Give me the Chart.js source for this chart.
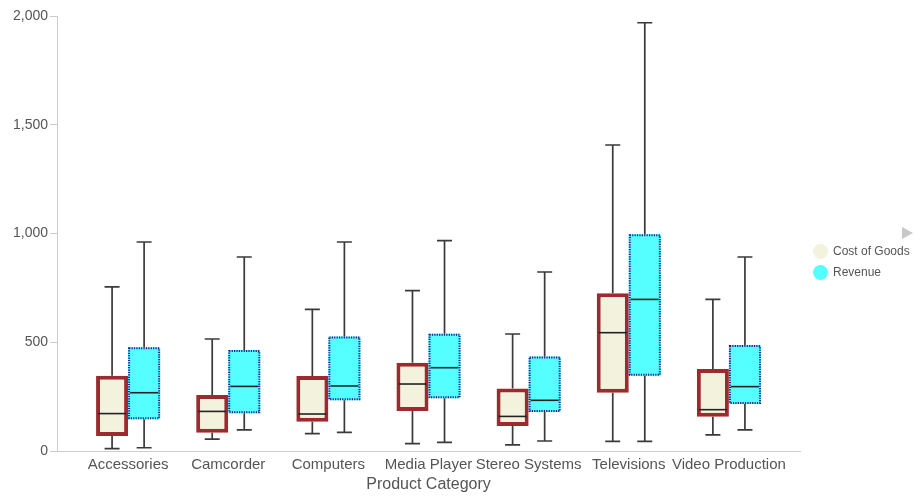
<!DOCTYPE html>
<html>
<head>
<meta charset="utf-8">
<script src="https://cdn.jsdelivr.net/npm/chart.js@4"></script>
<style>
  html, body { margin: 0; padding: 0; background: #fff; }
  #wrap { position: relative; width: 917px; height: 498px; font-family: "Liberation Sans", Arial, sans-serif; }
  .legend { position: absolute; left: 813px; font-size: 12px; color: #555; line-height: 15px; }
  .legend i { display: inline-block; width: 15px; height: 15px; border-radius: 50%; vertical-align: top; margin-right: 5px; }
  .pager { position: absolute; left: 902px; top: 227px; width: 0; height: 0;
    border-left: 11px solid #c8c8c8; border-top: 6px solid transparent; border-bottom: 6px solid transparent; }
</style>
</head>
<body>
<div id="wrap">
  <canvas id="chart" width="917" height="498"></canvas>
  <div class="pager"></div>
  <div class="legend" style="top:244px;"><i style="background:#F3F2DC"></i>Cost of Goods</div>
  <div class="legend" style="top:265px;"><i style="background:#55FFFF"></i>Revenue</div>
</div>
<script>
// box plot values
const CATEGORIES = ['Accessories', 'Camcorder', 'Computers', 'Media Player', 'Stereo Systems', 'Televisions', 'Video Production'];
const COST_MIN = [11, 55, 80, 34, 28, 44, 74];
const COST_Q1  = [69, 84, 135, 184, 115, 268, 158];
const COST_MED = [172, 182, 170, 308, 159, 544, 190];
const COST_Q3  = [346, 257, 345, 406, 287, 725, 377];
const COST_MAX = [755, 515, 651, 737, 538, 1407, 697];
const REV_MIN = [15, 97, 86, 40, 46, 44, 97];
const REV_Q1  = [146, 173, 233, 242, 179, 346, 216];
const REV_MED = [268, 297, 299, 383, 233, 697, 296];
const REV_Q3  = [477, 464, 527, 539, 435, 996, 487];
const REV_MAX = [961, 892, 961, 967, 823, 1969, 892];
const Y_TICKS = [0, 500, 1000, 1500, 2000];

const FONT = '"Liberation Sans", Arial, sans-serif';

const boxes = (q1, q3) => q1.map((v, i) => ({ x: i, y: [v, q3[i]] }));

// whiskers, medians and the dotted revenue border
const boxPlot = {
  id: 'boxPlot',
  afterDatasetsDraw(chart) {
    const y = chart.scales.y;
    const ctx = chart.ctx;
    chart.data.datasets.forEach((ds, di) => {
      const meta = chart.getDatasetMeta(di);
      meta.data.forEach((el, i) => {
        const { x, y: top0, base, width } = el.getProps(['x', 'y', 'base', 'width'], true);
        const top = Math.min(top0, base), bottom = Math.max(top0, base);
        const half = width / 2;
        const yMax = y.getPixelForValue(ds.whiskerMax[i]);
        const yMin = y.getPixelForValue(ds.whiskerMin[i]);
        const yMed = y.getPixelForValue(ds.median[i]);
        ctx.save();
        ctx.strokeStyle = '#3a3a3a';
        ctx.lineWidth = 1.7;
        ctx.beginPath();
        ctx.moveTo(x, top); ctx.lineTo(x, yMax);
        ctx.moveTo(x - 7.5, yMax); ctx.lineTo(x + 7.5, yMax);
        ctx.moveTo(x, bottom); ctx.lineTo(x, yMin);
        ctx.moveTo(x - 7.5, yMin); ctx.lineTo(x + 7.5, yMin);
        ctx.stroke();
        if (ds.dotted) {
          ctx.strokeStyle = '#1c1c90';
          ctx.lineWidth = 2;
          ctx.setLineDash([1.2, 1.2]);
          ctx.strokeRect(x - half + 1, top + 1, width - 2, bottom - top - 2);
          ctx.setLineDash([]);
        }
        ctx.strokeStyle = '#222';
        ctx.lineWidth = 1.6;
        ctx.beginPath();
        ctx.moveTo(x - half + 2, yMed); ctx.lineTo(x + half - 2, yMed);
        ctx.stroke();
        ctx.restore();
      });
    });
  }
};

new Chart(document.getElementById('chart'), {
  type: 'bar',
  data: {
    datasets: [
      { label: 'Cost of Goods', data: boxes(COST_Q1, COST_Q3), backgroundColor: '#F3F2DC',
        borderColor: '#9E2A2F', borderWidth: 4, borderSkipped: false,
        whiskerMin: COST_MIN, whiskerMax: COST_MAX, median: COST_MED },
      { label: 'Revenue', data: boxes(REV_Q1, REV_Q3), backgroundColor: '#55FFFF',
        borderWidth: 0, dotted: true,
        whiskerMin: REV_MIN, whiskerMax: REV_MAX, median: REV_MED },
    ],
  },
  options: {
    responsive: false,
    animation: false,
    devicePixelRatio: 1,
    locale: 'en-US',
    layout: { padding: { top: 16, right: 117, left: 0, bottom: 0 } },
    categoryPercentage: 0.64,
    barPercentage: 1,
    plugins: { legend: { display: false }, tooltip: { enabled: false } },
    scales: {
      x: {
        type: 'linear', min: -0.71, max: 6.71, offset: false,
        afterBuildTicks: s => { s.ticks = CATEGORIES.map((_, i) => ({ value: i })); },
        afterFit: s => { s.height = 47; },
        grid: { display: false, drawTicks: false },
        border: { color: '#ccc' },
        ticks: { autoSkip: false, maxRotation: 0, padding: 5, color: '#555',
          font: { family: FONT, size: 15 }, callback: v => CATEGORIES[v] ?? '' },
        title: { display: true, text: 'Product Category', color: '#555',
          font: { family: FONT, size: 16 }, padding: { top: 0, bottom: 4 } },
      },
      y: {
        min: 0, max: 2000,
        afterBuildTicks: s => { s.ticks = Y_TICKS.map(v => ({ value: v })); },
        afterFit: s => { s.width = 57; },
        grid: { drawOnChartArea: false, drawTicks: true, tickLength: 7, color: '#ccc' },
        border: { color: '#ccc' },
        ticks: { padding: 2, color: '#555', font: { family: FONT, size: 14 } },
      },
    },
  },
  plugins: [boxPlot],
});
</script>
</body>
</html>
